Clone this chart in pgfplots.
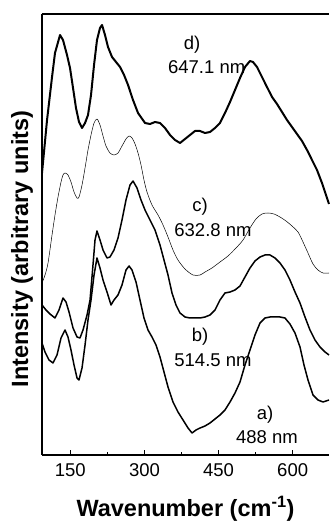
\documentclass[border=0pt]{standalone}
\usepackage{fontspec}
\setmainfont{Liberation Sans}
\usepackage{pgfplots}
\pgfplotsset{compat=1.18}
\begin{document}
\begin{tikzpicture}
\begin{axis}[
  at={(0,0)}, anchor=south west,
  scale only axis, width=287pt, height=441pt,
  xmin=92.7, xmax=673.5, ymin=0, ymax=441,
  axis x line*=bottom, axis y line*=left,
  x axis line style={-, line width=1.6pt},
  y axis line style={-, line width=1.2pt},
  xtick={150,300,450,600}, minor xtick={225,375,525},
  ytick=\empty,
  tick align=inside,
  major tick length=5pt, minor tick length=3pt,
  every tick/.style={black, line width=0.8pt},
  /pgf/number format/assume math mode=true,
  xticklabel style={font=\fontsize{18.5}{20}\selectfont, anchor=center, yshift=-15pt},
  xlabel={Wavenumber (cm\textsuperscript{-1})},
  xlabel style={font=\fontsize{23.5}{26}\selectfont\bfseries, at={(axis description cs:0.5,0)}, anchor=center, yshift=-54pt},
  ylabel={Intensity (arbitrary units)},
  ylabel style={font=\fontsize{23.5}{26}\selectfont\bfseries, at={(axis description cs:0,0.467)}, anchor=center, yshift=20pt},
  clip=false,
  every axis plot/.append style={black, line join=round, mark=none},
]
% d) 647.1 nm
\addplot[line width=2pt] coordinates {
(92.7,282) (102.9,335) (113.0,378) (119.0,402) (129.2,420) (135.2,415) (143.3,400)
(149.4,387) (155.5,367) (161.5,347) (167.6,333) (173.7,327) (179.8,332) (185.8,340)
(191.9,360) (198.0,390) (204.0,415) (210.1,427) (214.2,430) (220.2,420) (226.3,408)
(234.4,398) (242.5,393) (250.6,388) (258.7,380) (266.8,370) (276.9,355) (287.0,342)
(301.2,332) (311.3,331) (321.4,333) (331.5,332) (341.6,327) (351.8,320) (361.9,315)
(372.0,312) (382.1,316) (392.2,320) (402.3,324) (412.5,324) (422.6,322) (432.7,323)
(442.8,327) (452.9,332) (463.0,342) (473.2,353) (483.3,365) (493.4,377) (503.5,388)
(513.6,394) (519.7,393) (527.8,388) (537.9,378) (548.0,368) (558.2,358) (568.3,351)
(578.4,343) (588.5,335) (598.6,328) (608.7,321) (618.9,314) (629.0,305) (639.1,295)
(649.2,285) (659.3,272) (667.4,260) (673.5,251)
};
% c) 632.8 nm
\addplot[line width=0.5pt, smooth] coordinates {
(92.7,172) (98.8,180) (104.9,192) (113.0,220) (119.0,240) (125.1,258) (131.2,273)
(135.2,280) (139.3,282) (145.3,280) (151.4,273) (157.5,263) (163.6,257) (167.6,258)
(173.7,270) (179.8,287) (185.8,305) (191.9,320) (198.0,332) (204.0,336) (210.1,330)
(216.2,319) (222.2,309) (230.3,302) (238.4,300) (246.5,302) (254.6,309) (262.7,316)
(268.8,319) (274.9,317) (281.0,311) (287.0,302) (293.1,290) (299.1,275) (305.2,263)
(315.3,250) (327.5,240) (337.6,230) (347.7,218) (357.8,205) (367.9,195) (382.1,186)
(398.3,180) (412.5,180) (422.6,183) (436.7,187) (452.9,193) (469.1,199) (485.3,207)
(499.5,215) (513.6,227) (525.8,236) (537.9,241) (550.0,242) (562.2,241) (574.3,238)
(586.5,234) (598.6,229) (610.8,223) (620.9,213) (631.0,202) (641.1,191) (651.2,185)
(661.4,182) (673.5,182)
};
% b) 514.5 nm
\addplot[line width=1.5pt] coordinates {
(92.7,150) (100.8,145) (108.9,141) (119.0,137) (127.1,145) (135.2,157) (141.3,153)
(147.4,143) (155.5,127) (163.6,118) (169.6,117) (175.7,125) (183.8,140) (189.9,155)
(195.9,190) (200.0,215) (204.0,224) (210.1,215) (216.2,205) (224.3,197) (230.3,198)
(238.4,205) (246.5,217) (254.6,235) (262.7,255) (270.8,270) (276.9,274) (285.0,267)
(293.1,255) (301.2,245) (311.3,235) (321.4,225) (331.5,210) (339.6,195) (347.7,180)
(355.8,162) (363.9,150) (372.0,142) (382.1,138) (392.2,137) (402.3,137) (412.5,137)
(422.6,138) (432.7,140) (442.8,145) (452.9,155) (463.0,162) (473.2,163) (483.3,165)
(493.4,169) (503.5,178) (513.6,187) (523.7,194) (533.9,198) (544.0,200) (554.1,200)
(564.2,197) (574.3,192) (584.4,185) (594.5,175) (604.7,163) (614.8,152) (624.9,138)
(635.0,125) (645.1,115) (655.3,108) (665.4,103) (673.5,100)
};
% a) 488 nm
\addplot[line width=1.5pt] coordinates {
(92.7,112) (98.8,103) (106.9,95) (115.0,92) (123.1,100) (131.2,117) (139.3,125)
(145.3,118) (151.4,105) (157.5,90) (163.6,77) (167.6,75) (173.7,87) (179.8,110)
(185.8,135) (191.9,155) (198.0,180) (204.0,197) (210.1,187) (216.2,175) (224.3,163)
(232.4,150) (238.4,155) (246.5,160) (254.6,170) (262.7,185) (268.8,189) (274.9,185)
(283.0,173) (291.0,155) (299.1,137) (307.2,125) (315.3,118) (323.4,110) (331.5,98)
(339.6,83) (347.7,68) (357.8,53) (367.9,43) (378.1,35) (388.2,27) (396.3,22)
(404.4,25) (412.5,27) (422.6,29) (432.7,32) (442.8,36) (452.9,40) (463.0,45)
(473.2,53) (483.3,62) (493.4,73) (503.5,90) (513.6,105) (523.7,120) (533.9,132)
(544.0,137) (554.1,138) (564.2,138) (574.3,138) (584.4,137) (594.5,131) (604.7,122)
(614.8,108) (622.9,90) (631.0,75) (641.1,60) (651.2,55) (661.4,53) (673.5,55)
};
\draw[line width=1.6pt] (rel axis cs:0,1) -- (rel axis cs:1,1);
\begin{scope}[every node/.style={font=\fontsize{18.5}{20}\selectfont, anchor=center, inner sep=0pt}]
\node at (axis cs:396.3,410) {d)};
\node at (axis cs:426,388) {647.1 nm};
\node at (axis cs:412.5,248) {c)};
\node at (axis cs:438.7,225) {632.8 nm};
\node at (axis cs:412.5,118) {b)};
\node at (axis cs:438.7,95) {514.5 nm};
\node at (axis cs:544,40) {a)};
\node at (axis cs:548,18) {488 nm};
\end{scope}
\end{axis}
\pgfresetboundingbox
\useasboundingbox (-42pt,-66pt) rectangle (287pt,455pt);
\end{tikzpicture}
\end{document}
